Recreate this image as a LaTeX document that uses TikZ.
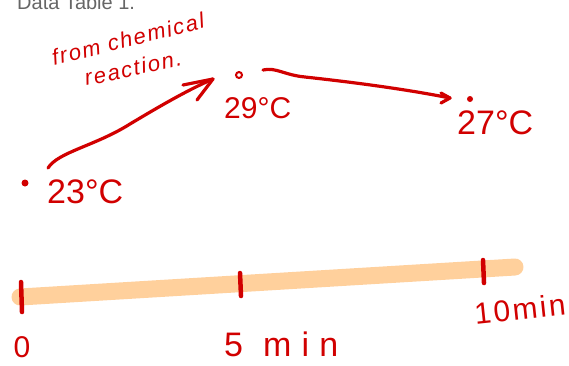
\documentclass[tikz,border=0pt]{standalone}
\usepackage{fontspec}
\setmainfont{Liberation Sans}
\newfontfamily\handA[LetterSpace=8]{Liberation Sans}
\newfontfamily\handB[LetterSpace=30]{Liberation Sans}
\definecolor{ink}{HTML}{D10000}
\definecolor{peach}{HTML}{FFD09C}
\begin{document}
\begin{tikzpicture}[x=1pt,y=-1pt,
  inkline/.style={draw=ink, line width=3.2pt, line cap=round, line join=round},
  hw/.style={text=ink, inner sep=0pt},
  tickline/.style={draw=ink, line width=4.5pt, line cap=round}]
\useasboundingbox (0,0) rectangle (569,365);
\clip (0,0) rectangle (569,365);
% title (cut off at top)
\node[anchor=base west, text=black!60, font=\fontsize{20}{24}\selectfont, inner sep=0pt] (title) at (17,9) {Data Table 1.};
% annotation
\node[hw, rotate=14, font=\handA\itshape\fontsize{22}{24}\selectfont] (from) at (128,39) {from chemical};
\node[hw, rotate=12, font=\handA\itshape\fontsize{22}{24}\selectfont] (reac) at (133,68) {reaction.};
% data points
\fill[ink] (25,183) circle[radius=3.5pt];
\draw[ink, line width=2pt] (239,75) circle[radius=3pt];
\fill[ink] (470,99) circle[radius=3pt];
% temperature labels
\node[hw, anchor=base west, font=\fontsize{34}{36}\selectfont] (t23) at (47,203) {23°C};
\node[hw, anchor=base west, font=\fontsize{30}{34}\selectfont] (t29) at (224,118) {29°C};
\node[hw, anchor=base west, font=\fontsize{34}{36}\selectfont] (t27) at (457,134) {27°C};
% arrows
\coordinate (a1s) at (48,168);
\coordinate (a1e) at (213,79);
\coordinate (a2s) at (263,70);
\coordinate (a2e) at (450,98);
\draw[inkline] (a1s) .. controls (58,152) and (95,146) .. (130,124) .. controls (165,103) and (190,89) .. (a1e);
\draw[inkline] (183,85) -- (a1e) -- (197,100);
\draw[inkline] (a2s) .. controls (276,67) and (284,75) .. (305,77) .. controls (360,83) and (410,90) .. (a2e);
\draw[inkline] (441,93) -- (a2e) -- (441,103);
% timeline
\coordinate (tl0) at (20,297);
\coordinate (tl1) at (515,267);
\draw[peach, line width=17pt, line cap=round] (tl0) -- (tl1);
\draw[tickline] (21,282) -- (22,312);
\draw[tickline] (240,273) -- (241,296);
\draw[tickline] (483,260) -- (484,283);
% time labels
\node[hw, font=\fontsize{30}{34}\selectfont] (l0) at (22,347) {0};
\node[hw, anchor=base west, font=\handB\fontsize{34}{36}\selectfont] (l5) at (224,356) {5\hspace{20pt}min};
\node[hw, rotate=6, font=\handA\fontsize{30}{34}\selectfont] (l10) at (520,309) {10min};
\end{tikzpicture}
\end{document}
